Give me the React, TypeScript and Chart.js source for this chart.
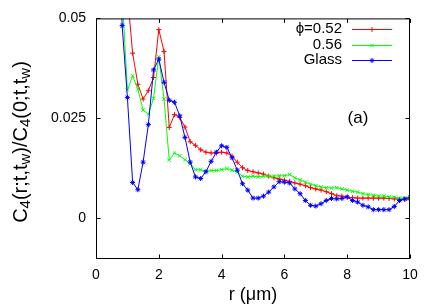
import { useEffect, useRef } from 'react';
import { Chart, registerables } from 'chart.js';

Chart.register(...registerables);

// r values (µm)
const R = [
  0.667, 0.833, 1.0, 1.167, 1.333, 1.5, 1.667, 1.833, 2.0, 2.167,
  2.333, 2.5, 2.667, 2.833, 3.0, 3.167, 3.333, 3.5, 3.667, 3.833,
  4.0, 4.167, 4.333, 4.5, 4.667, 4.833, 5.0, 5.167, 5.333, 5.5,
  5.667, 5.833, 6.0, 6.167, 6.333, 6.5, 6.667, 6.833, 7.0, 7.167,
  7.333, 7.5, 7.667, 7.833, 8.0, 8.167, 8.333, 8.5, 8.667, 8.833,
  9.0, 9.167, 9.333, 9.5, 9.667, 9.833, 10.0,
];

const PHI_052 = [
  0.1, 0.075, 0.056, 0.0413, 0.0335, 0.0298, 0.0319, 0.0352, 0.0472, 0.0417,
  0.0227, 0.0259, 0.0252, 0.0228, 0.0191, 0.0182, 0.0171, 0.0165, 0.0163, 0.0163,
  0.0165, 0.0163, 0.0155, 0.014, 0.0126, 0.0119, 0.0116, 0.0113, 0.011, 0.0105,
  0.0101, 0.0098, 0.0095, 0.0092, 0.0088, 0.0085, 0.0081, 0.0076, 0.0073, 0.007,
  0.0066, 0.0061, 0.0056, 0.0055, 0.0052, 0.0051, 0.005, 0.005, 0.005, 0.005,
  0.005, 0.005, 0.0049, 0.0048, 0.0047, 0.0046, 0.0046,
];

const PHI_056 = [
  0.075, 0.056, 0.0321, 0.0356, 0.0323, 0.0271, 0.026, 0.03, 0.0404, 0.0298,
  0.0145, 0.0163, 0.0156, 0.0146, 0.0136, 0.0121, 0.0121, 0.0117, 0.0119, 0.0119,
  0.0121, 0.0124, 0.012, 0.0115, 0.0105, 0.0103, 0.0105, 0.0103, 0.0105, 0.0105,
  0.0105, 0.0106, 0.0106, 0.0109, 0.0101, 0.0095, 0.009, 0.0085, 0.0081, 0.0078,
  0.0076, 0.0075, 0.0076, 0.0073, 0.007, 0.0067, 0.0065, 0.0061, 0.0059, 0.0057,
  0.0055, 0.0055, 0.0053, 0.0052, 0.005, 0.005, 0.0049,
];

const GLASS = [
  0.09, 0.0482, 0.0302, 0.0089, 0.0071, 0.014, 0.0234, 0.0371, 0.0398, 0.034,
  0.0295, 0.029, 0.0256, 0.0202, 0.014, 0.0103, 0.0099, 0.0116, 0.0142, 0.0165,
  0.0181, 0.0177, 0.0151, 0.012, 0.0086, 0.007, 0.005, 0.005, 0.0055, 0.0065,
  0.0078, 0.0091, 0.009, 0.0088, 0.0073, 0.0061, 0.0044, 0.0032, 0.003, 0.0036,
  0.0044, 0.0049, 0.0048, 0.0049, 0.0053, 0.0044, 0.004, 0.0032, 0.0028, 0.0021,
  0.0021, 0.0021, 0.0021, 0.0029, 0.0044, 0.0048, 0.0052,
];

const SERIES_LABELS = ['ϕ=0.52', '0.56', 'Glass'];
const X_TICKS = [0, 2, 4, 6, 8, 10];
const Y_TICKS = [0, 0.025, 0.05];
const Y_TICK_LABELS = ['0', '0.025', '0.05'];
const X_TITLE = 'r (μm)';
const PANEL_LABEL = '(a)';
// y title pieces: [text, isSubscript]
const Y_TITLE: [string, boolean][] = [
  ['C', false], ['4', true], ['(r;t,t', false], ['w', true], [')/C', false],
  ['4', true], ['(0;t,t', false], ['w', true], [')', false],
];

const FONT = '"Liberation Sans", Arial, Helvetica, sans-serif';
const COLORS = ['#ff0000', '#00ff00', '#0000ff'];
const MARKERS = ['cross', 'crossRot', 'star'];

function drawMarker(ctx: CanvasRenderingContext2D, kind: string, x: number, y: number, r: number) {
  ctx.beginPath();
  if (kind === 'cross' || kind === 'star') {
    ctx.moveTo(x - r, y); ctx.lineTo(x + r, y);
    ctx.moveTo(x, y - r); ctx.lineTo(x, y + r);
  }
  if (kind === 'crossRot' || kind === 'star') {
    const d = r * 0.7071;
    ctx.moveTo(x - d, y - d); ctx.lineTo(x + d, y + d);
    ctx.moveTo(x - d, y + d); ctx.lineTo(x + d, y - d);
  }
  ctx.stroke();
}

const decorPlugin = {
  id: 'decor',
  afterDraw(chart: any) {
    const { ctx, chartArea: a, scales } = chart;
    const xs = scales.x;
    const ys = scales.y;
    ctx.save();
    // frame
    ctx.strokeStyle = '#000';
    ctx.lineWidth = 1;
    const L = a.left + 0.5, Rr = a.right - 0.5, T = a.top + 0.5, B = a.bottom + 0.5;
    ctx.strokeRect(L, T, Rr - L, B - T);
    // inward ticks on all sides
    const tl = 4;
    ctx.beginPath();
    X_TICKS.forEach((v) => {
      const px = Math.round(xs.getPixelForValue(v)) + 0.5;
      ctx.moveTo(px, B); ctx.lineTo(px, B - tl);
      ctx.moveTo(px, T); ctx.lineTo(px, T + tl);
    });
    Y_TICKS.forEach((v) => {
      const py = Math.round(ys.getPixelForValue(v)) + 0.5;
      ctx.moveTo(L, py); ctx.lineTo(L + tl, py);
      ctx.moveTo(Rr, py); ctx.lineTo(Rr - tl, py);
    });
    ctx.stroke();

    ctx.fillStyle = '#000';
    // x title
    ctx.font = `18px ${FONT}`;
    ctx.textAlign = 'center';
    ctx.textBaseline = 'middle';
    ctx.fillText(X_TITLE, (a.left + a.right) / 2, 295);

    // y title with subscripts
    ctx.save();
    ctx.translate(20, 142);
    ctx.rotate(-Math.PI / 2);
    const mainSize = 20;
    const subSize = 15;
    let total = 0;
    Y_TITLE.forEach(([t, sub]) => {
      ctx.font = `${sub ? subSize : mainSize}px ${FONT}`;
      total += ctx.measureText(t).width;
    });
    let cx = -total / 2;
    ctx.textAlign = 'left';
    ctx.textBaseline = 'alphabetic';
    Y_TITLE.forEach(([t, sub]) => {
      ctx.font = `${sub ? subSize : mainSize}px ${FONT}`;
      ctx.fillText(t, cx, sub ? 10 : 7);
      cx += ctx.measureText(t).width;
    });
    ctx.restore();

    // panel label
    ctx.font = `17px ${FONT}`;
    ctx.textAlign = 'center';
    ctx.textBaseline = 'middle';
    ctx.fillText(PANEL_LABEL, 358, 118);

    // legend
    ctx.font = `15px ${FONT}`;
    ctx.textAlign = 'right';
    const rows = [29, 44.5, 60];
    chart.data.datasets.forEach((ds: any, i: number) => {
      const y = rows[i];
      ctx.fillStyle = '#000';
      ctx.fillText(ds.label, 342, y);
      ctx.strokeStyle = ds.borderColor;
      ctx.lineWidth = 1;
      ctx.beginPath();
      ctx.moveTo(352, Math.round(y) + 0.5);
      ctx.lineTo(392, Math.round(y) + 0.5);
      ctx.stroke();
      drawMarker(ctx, MARKERS[i], 372, Math.round(y) + 0.5, 2.5);
    });
    ctx.restore();
  },
};

export default function App() {
  const ref = useRef<HTMLCanvasElement | null>(null);
  useEffect(() => {
    if (!ref.current) return;
    const series = [PHI_052, PHI_056, GLASS];
    const chart = new Chart(ref.current, {
      type: 'line',
      data: {
        datasets: series.map((vals, i) => ({
          label: SERIES_LABELS[i],
          data: R.map((r, j) => ({ x: r, y: vals[j] })),
          borderColor: COLORS[i],
          backgroundColor: COLORS[i],
          borderWidth: 1,
          pointStyle: MARKERS[i] as any,
          pointRadius: 2.5,
          pointBorderWidth: 1,
          pointBorderColor: COLORS[i],
          tension: 0,
          fill: false,
          order: 3 - i,
          clip: 0,
        })),
      },
      options: {
        animation: false,
        responsive: true,
        maintainAspectRatio: false,
        layout: { padding: { top: 18, right: 26, left: 0, bottom: 0 } },
        plugins: { legend: { display: false }, tooltip: { enabled: false } },
        scales: {
          x: {
            type: 'linear',
            min: 0,
            max: 10,
            afterBuildTicks: (s: any) => { s.ticks = X_TICKS.map((v) => ({ value: v })); },
            afterFit: (s: any) => { s.height = 47; },
            grid: { display: false, drawTicks: false, tickLength: 0 },
            border: { display: false },
            ticks: {
              padding: 9,
              color: '#000',
              font: { family: FONT, size: 14 },
              maxRotation: 0,
              autoSkip: false,
              callback: (v: any) => String(v),
            },
          },
          y: {
            type: 'linear',
            min: -0.01,
            max: 0.05,
            afterBuildTicks: (s: any) => { s.ticks = Y_TICKS.map((v) => ({ value: v })); },
            afterFit: (s: any) => { s.width = 96; },
            grid: { display: false, drawTicks: false, tickLength: 0 },
            border: { display: false },
            ticks: {
              padding: 10,
              color: '#000',
              font: { family: FONT, size: 14 },
              autoSkip: false,
              callback: (v: any) => {
                const k = Y_TICKS.indexOf(v);
                return k >= 0 ? Y_TICK_LABELS[k] : '';
              },
            },
          },
        },
      },
      plugins: [decorPlugin],
    });
    return () => chart.destroy();
  }, []);
  return (
    <div style={{ position: 'fixed', left: 0, top: 0, width: 436, height: 305, background: '#fff' }}>
      <canvas ref={ref} />
    </div>
  );
}
